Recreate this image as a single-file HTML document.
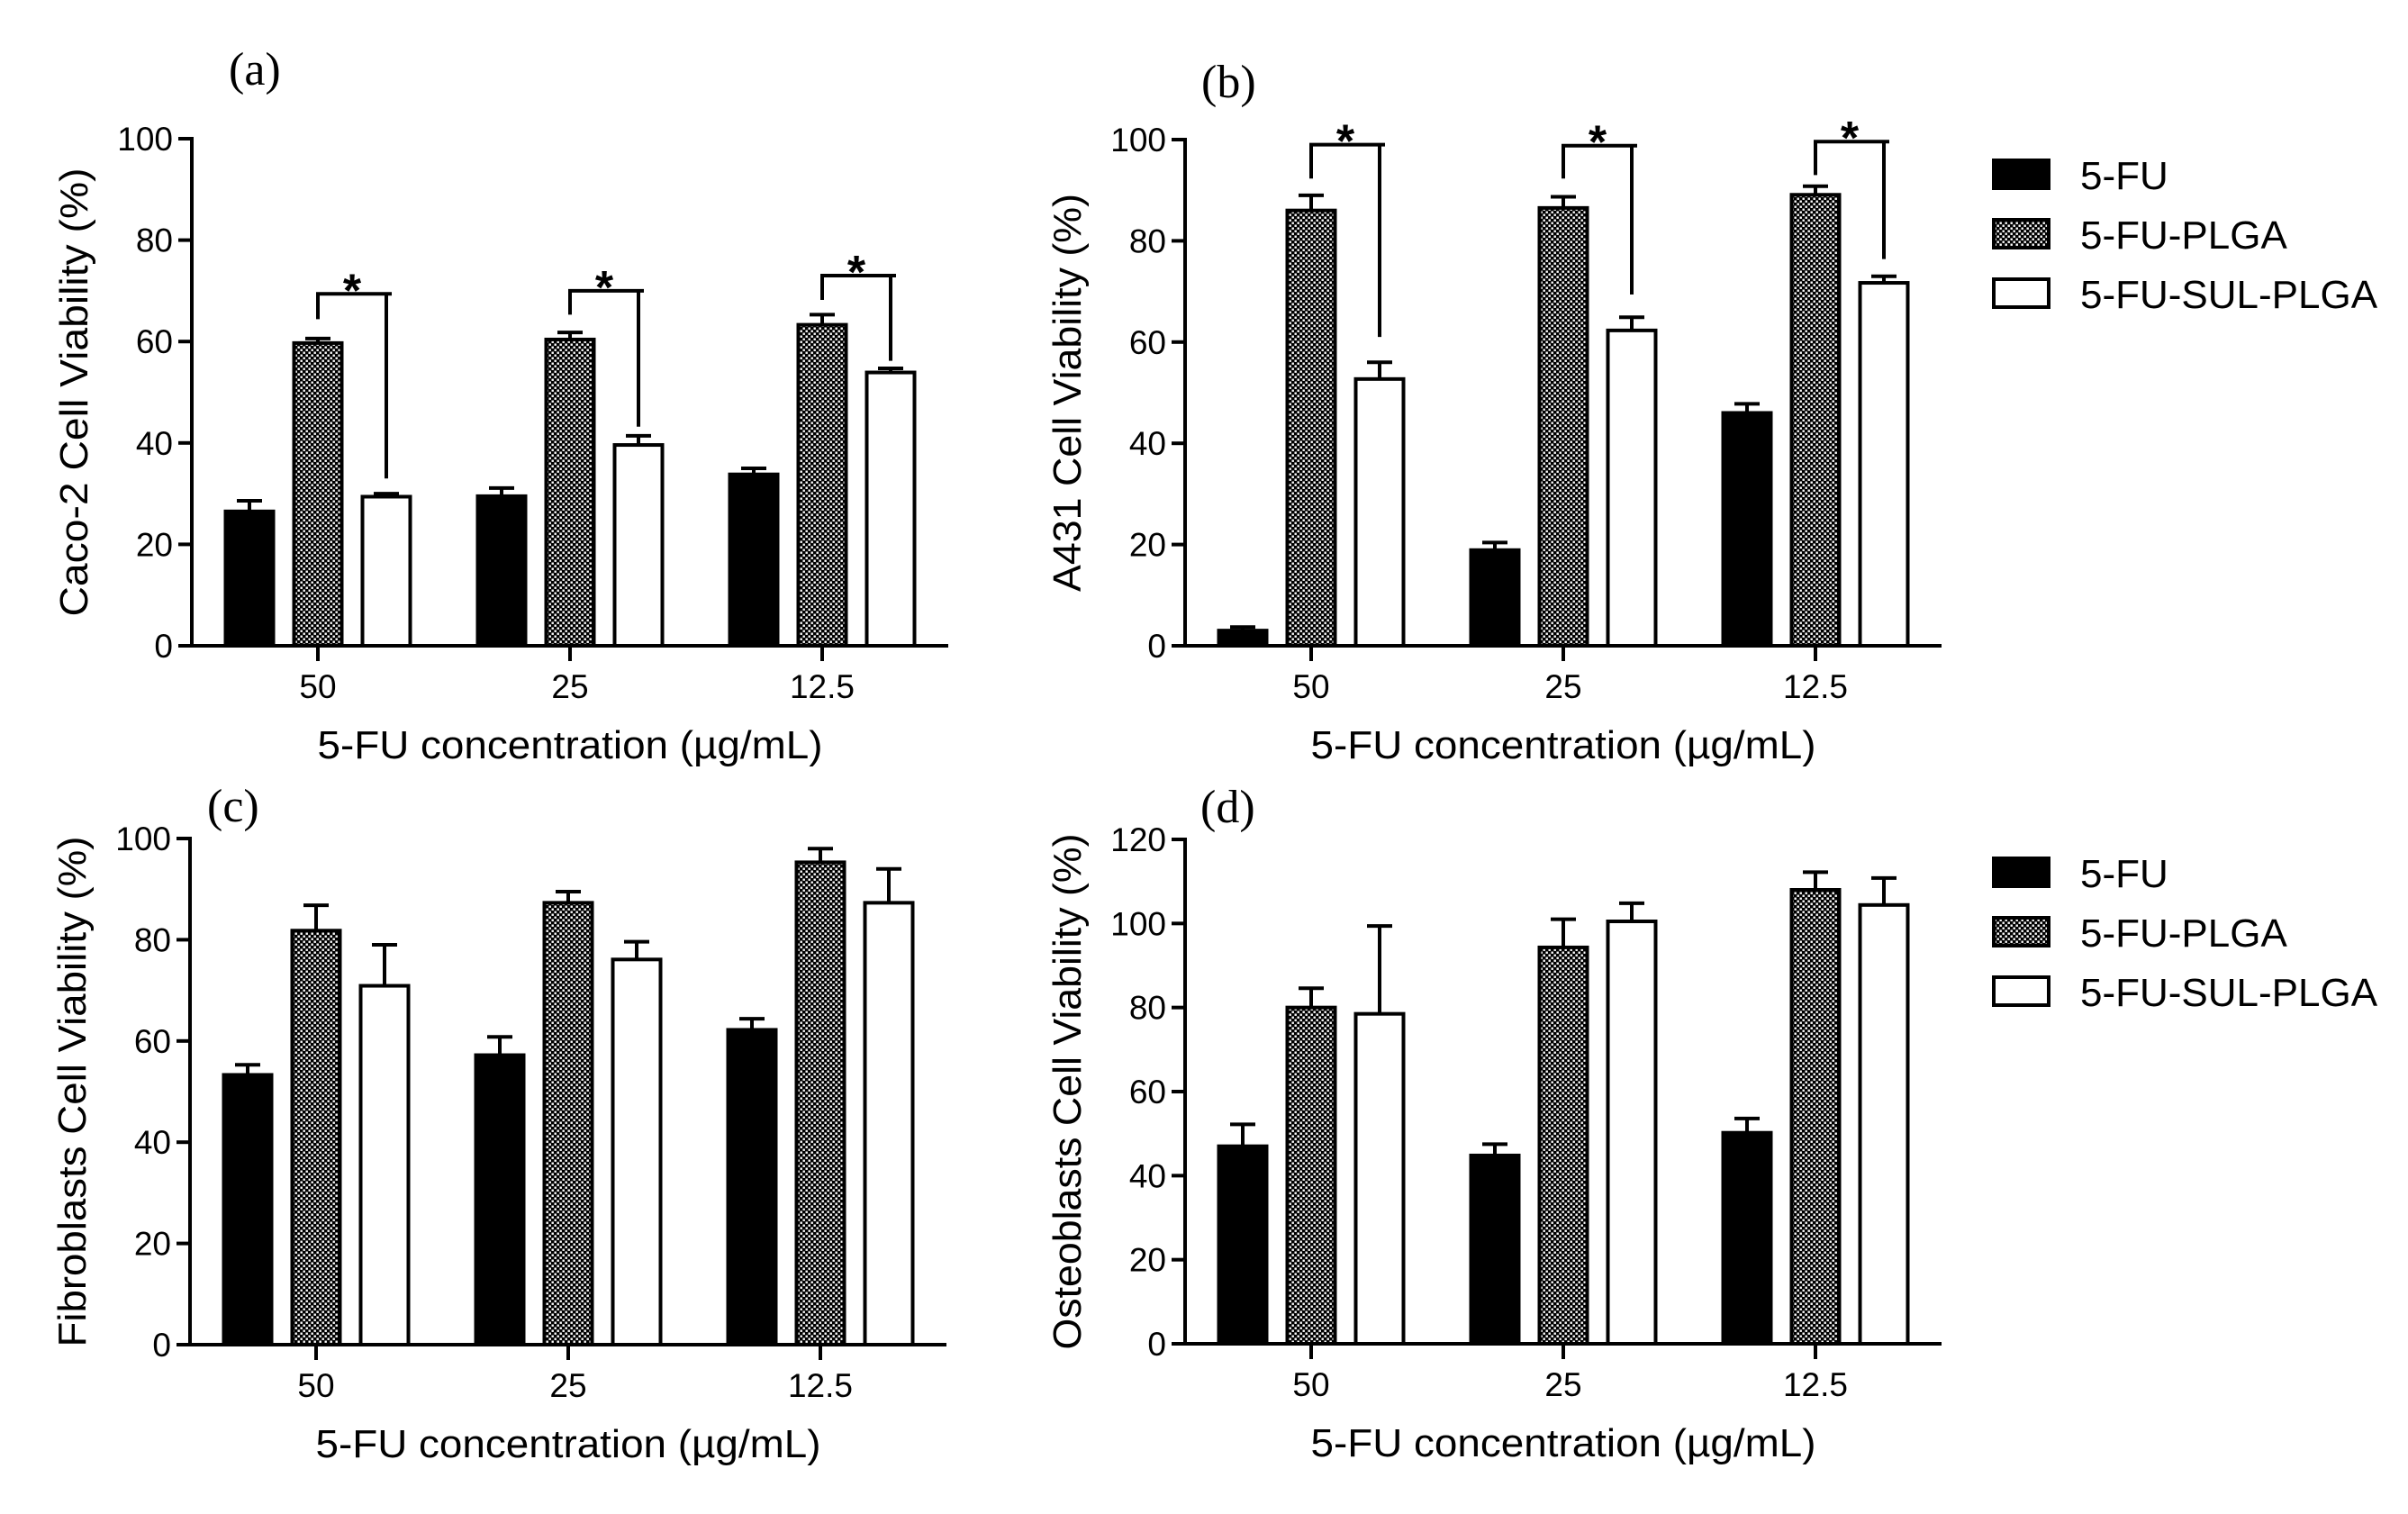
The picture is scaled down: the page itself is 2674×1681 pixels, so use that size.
<!DOCTYPE html>
<html><head><meta charset="utf-8">
<style>
html,body{margin:0;padding:0;background:#fff;}
svg{display:block;}
text{font-family:"Liberation Sans",Arial,sans-serif;fill:#000;}
.serif{font-family:"Liberation Serif","Times New Roman",serif;}
</style></head>
<body>
<svg id="fig" xmlns="http://www.w3.org/2000/svg" width="2674" height="1681" viewBox="0 0 2674 1681">
<defs>
<pattern id="chk" patternUnits="userSpaceOnUse" width="6" height="6">
<rect width="6" height="6" fill="#000"/>
<rect x="0.5" y="0.5" width="2.4" height="2.4" fill="#fff"/>
<rect x="3.5" y="3.5" width="2.4" height="2.4" fill="#fff"/>
</pattern>
</defs>
</svg>
<script>
// ---- data ----
const categories = ["50", "25", "12.5"];
const seriesNames = ["5-FU", "5-FU-PLGA", "5-FU-SUL-PLGA"];
// panel a (Caco-2)
const aFU = [26.5, 29.5, 33.8];   const aFUerr = [2.1, 1.6, 1.2];
const aPLGA = [59.7, 60.4, 63.3]; const aPLGAerr = [0.9, 1.4, 2.0];
const aSUL = [29.4, 39.6, 53.9];  const aSULerr = [0.6, 1.8, 0.8];
const aBracket = [69.4, 70.0, 73.0];
const aBracketLeft = [64.4, 65.3, 68.2];
const aBracketRight = [33.0, 43.2, 56.2];
// panel b (A431)
const bFU = [3.0, 18.9, 46.0];    const bFUerr = [0.7, 1.5, 1.8];
const bPLGA = [86.0, 86.5, 89.1]; const bPLGAerr = [3.0, 2.2, 1.7];
const bSUL = [52.7, 62.3, 71.7];  const bSULerr = [3.3, 2.6, 1.3];
const bBracket = [99.0, 98.8, 99.6];
const bBracketLeft = [92.3, 92.3, 93.0];
const bBracketRight = [61.0, 69.4, 76.4];
// panel c (Fibroblasts)
const cFU = [53.3, 57.2, 62.2];   const cFUerr = [2.0, 3.6, 2.2];
const cPLGA = [81.8, 87.3, 95.3]; const cPLGAerr = [5.0, 2.2, 2.7];
const cSUL = [70.9, 76.1, 87.3];  const cSULerr = [8.1, 3.5, 6.7];
// panel d (Osteoblasts)
const dFU = [47.0, 44.8, 50.2];   const dFUerr = [5.2, 2.7, 3.4];
const dPLGA = [80.0, 94.3, 108.0]; const dPLGAerr = [4.6, 6.7, 4.2];
const dSUL = [78.5, 100.5, 104.4]; const dSULerr = [20.9, 4.3, 6.4];
const ticks100 = [0, 20, 40, 60, 80, 100];
const ticks120 = [0, 20, 40, 60, 80, 100, 120];

const NS = "http://www.w3.org/2000/svg";
const svg = document.getElementById("fig");
function mk(tag, attrs, parent, txt) {
  const e = document.createElementNS(NS, tag);
  for (const k in attrs) e.setAttribute(k, attrs[k]);
  if (txt !== undefined) e.textContent = txt;
  (parent || svg).appendChild(e);
  return e;
}
const fills = ["#000", "url(#chk)", "#fff"];

function panel(p) {
  const g = mk("g", {});
  
  
  const yScale = v => p.y0 - (v / p.ymax) * (p.y0 - p.ytop);
  const xCenter = i => p.ax + 140 + i * 280;
  const barOff = [-76, 0, 76];
  const bw = 53;
  const vals = [p.fu, p.plga, p.sul];
  const errs = [p.fuErr, p.plgaErr, p.sulErr];
  for (let s = 0; s < 3; s++) {
    for (let i = 0; i < categories.length; i++) {
      const cx = xCenter(i) + barOff[s];
      const top = yScale(vals[s][i]);
      const et = yScale(vals[s][i] + errs[s][i]);
      const eb = mk("line", {x1: cx, x2: cx, y1: top, y2: et, stroke: "#000", "stroke-width": 4}, g);
      
      
      const cap = mk("line", {x1: cx - 14, x2: cx + 14, y1: et, y2: et, stroke: "#000", "stroke-width": 4}, g);
      
      
      const r = mk("rect", {x: cx - bw / 2, y: top, width: bw, height: p.y0 - top, fill: fills[s], stroke: "#000", "stroke-width": 4}, g);
      
      
    }
  }
  if (p.br) {
    for (let i = 0; i < categories.length; i++) {
      const xl = xCenter(i), xr = xCenter(i) + 76;
      const yb = yScale(p.br[i]);
      const b = mk("path", {d: `M${xl},${yScale(p.brL[i])} L${xl},${yb} L${xr + 6},${yb} M${xr},${yb} L${xr},${yScale(p.brR[i])}`, fill: "none", stroke: "#000", "stroke-width": 4}, g);
      
      
      const st = mk("text", {x: (xl + xr) / 2, y: yb + 14, "font-size": 52, "font-weight": "bold", "text-anchor": "middle"}, g, "*");
      
      
    }
  }
  const ya = mk("line", {x1: p.ax, x2: p.ax, y1: p.ytop - 2, y2: p.y0 + 2, stroke: "#000", "stroke-width": 4}, g);
  
  
  const xa = mk("line", {x1: p.ax - 2, x2: p.ax + 840, y1: p.y0, y2: p.y0, stroke: "#000", "stroke-width": 4}, g);
  
  
  for (const t of p.ticks) {
    const y = yScale(t);
    mk("line", {x1: p.ax - 15, x2: p.ax, y1: y, y2: y, stroke: "#000", "stroke-width": 4}, g);
    const tl = mk("text", {x: p.ax - 21, y: y + 13, "font-size": 37, "text-anchor": "end"}, g, String(t));
    
    
  }
  for (let i = 0; i < categories.length; i++) {
    const x = xCenter(i);
    mk("line", {x1: x, x2: x, y1: p.y0, y2: p.y0 + 17, stroke: "#000", "stroke-width": 4}, g);
    const tl = mk("text", {x: x, y: p.y0 + 58, "font-size": 37, "text-anchor": "middle"}, g, categories[i]);
    
    
  }
  const xt = mk("text", {x: p.ax + 420, y: p.y0 + 125, "font-size": 44, "text-anchor": "middle", textLength: 561, lengthAdjust: "spacingAndGlyphs"}, g, "5-FU concentration (\u00b5g/mL)");
  
  
  const ymid = (p.y0 + p.ytop) / 2;
  const yt = mk("text", {x: 0, y: 0, "font-size": 44, "text-anchor": "middle", textLength: p.ylen, lengthAdjust: "spacingAndGlyphs", transform: `translate(${p.ax - 116},${ymid}) rotate(-90)`}, g, p.ytitle);
  
  
  const pl = mk("text", {x: p.lx, y: p.ly, "font-size": 52, "class": "serif"}, g, p.label);
  
  
}

function legend(y0, id) {
  const g = mk("g", {});
  
  
  for (let s = 0; s < 3; s++) {
    const y = y0 + s * 66;
    const r = mk("rect", {x: 2214, y: y, width: 61, height: 31, fill: fills[s], stroke: "#000", "stroke-width": 4}, g);
    
    
    const t = mk("text", {x: 2310, y: y + 32, "font-size": 44}, g, seriesNames[s]);
    
    
  }
}

panel({id: "a", ax: 213, y0: 717, ytop: 154, ymax: 100, ticks: ticks100, fu: aFU, fuErr: aFUerr, plga: aPLGA, plgaErr: aPLGAerr, sul: aSUL, sulErr: aSULerr, br: aBracket, brL: aBracketLeft, brR: aBracketRight, ytitle: "Caco-2 Cell Viability (%)", ylen: 498, label: "(a)", lx: 254, ly: 94});
panel({id: "b", ax: 1316, y0: 717, ytop: 155, ymax: 100, ticks: ticks100, fu: bFU, fuErr: bFUerr, plga: bPLGA, plgaErr: bPLGAerr, sul: bSUL, sulErr: bSULerr, br: bBracket, brL: bBracketLeft, brR: bBracketRight, ytitle: "A431 Cell Viability (%)", ylen: 442, label: "(b)", lx: 1334, ly: 108});
panel({id: "c", ax: 211, y0: 1493, ytop: 931, ymax: 100, ticks: ticks100, fu: cFU, fuErr: cFUerr, plga: cPLGA, plgaErr: cPLGAerr, sul: cSUL, sulErr: cSULerr, ytitle: "Fibroblasts Cell Viability (%)", ylen: 567, label: "(c)", lx: 230, ly: 912});
panel({id: "d", ax: 1316, y0: 1492, ytop: 932, ymax: 120, ticks: ticks120, fu: dFU, fuErr: dFUerr, plga: dPLGA, plgaErr: dPLGAerr, sul: dSUL, sulErr: dSULerr, ytitle: "Osteoblasts Cell Viability (%)", ylen: 573, label: "(d)", lx: 1333, ly: 913});
legend(178, "top");
legend(953, "bottom");
</script>
</body></html>
